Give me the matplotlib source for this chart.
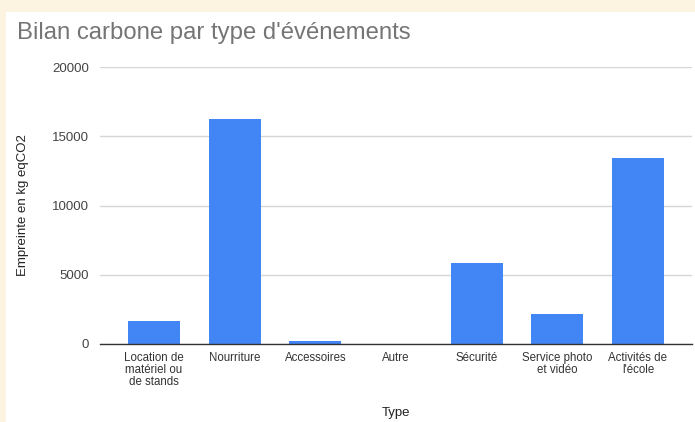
import matplotlib.pyplot as plt
from matplotlib.patches import Rectangle

# Données (kg eqCO2)
categories = ["Location de\nmatériel ou\nde stands", "Nourriture", "Accessoires", "Autre",
              "Sécurité", "Service photo\net vidéo", "Activités de\nl'école"]
empreinte = [1680, 16220, 200, 0, 5830, 2190, 13440]
yticks = [0, 5000, 10000, 15000, 20000]

plt.rcParams['font.family'] = ['Liberation Sans', 'DejaVu Sans']

W, H = 695, 422
fig = plt.figure(figsize=(W / 100, H / 100), dpi=100, facecolor="#fdf3e1")
# zone blanche du graphique
fig.patches.append(Rectangle((6 / W, 0), 1, 1 - 12 / H, transform=fig.transFigure,
                             facecolor="white", edgecolor="none", zorder=-10))

ax = fig.add_axes([100 / W, 1 - 344 / H, 592 / W, 277 / H])
ax.set_facecolor("none")

xs = range(len(categories))
ax.bar(xs, empreinte, width=0.645, color="#4285f4", zorder=3)

ax.set_xlim(-0.67, 6.67)
ax.set_ylim(0, 20000)
ax.set_yticks(yticks)
ax.set_yticklabels([str(v) for v in yticks], fontsize=9.5, color="#444444")
ax.set_xticks(list(xs))
ax.set_xticklabels(categories, fontsize=8.3, color="#333333", linespacing=1.0)
ax.tick_params(axis="both", length=0)
ax.tick_params(axis="y", pad=8)
ax.tick_params(axis="x", pad=6)

ax.grid(axis="y", color="#d6d6d6", linewidth=1, zorder=0)
for s in ["top", "right", "left"]:
    ax.spines[s].set_visible(False)
ax.spines["bottom"].set_color("#333333")
ax.spines["bottom"].set_linewidth(1)
ax.spines["bottom"].set_zorder(4)

ax.set_xlabel("Type", fontsize=9.5, color="#222222")
ax.xaxis.set_label_coords(0.5, -(413 - 344) / 277)
ax.xaxis.label.set_va("center")
ax.set_ylabel("Empreinte en kg eqCO2", fontsize=9.5, color="#222222")
ax.yaxis.set_label_coords((23 - 100) / 592, 0.5)
ax.yaxis.label.set_va("center")

fig.text(17 / W, 1 - 33 / H, "Bilan carbone par type d'événements", fontsize=17.2,
         color="#757575", va="center", ha="left")

fig.savefig("out.png", dpi=100, facecolor=fig.get_facecolor())
